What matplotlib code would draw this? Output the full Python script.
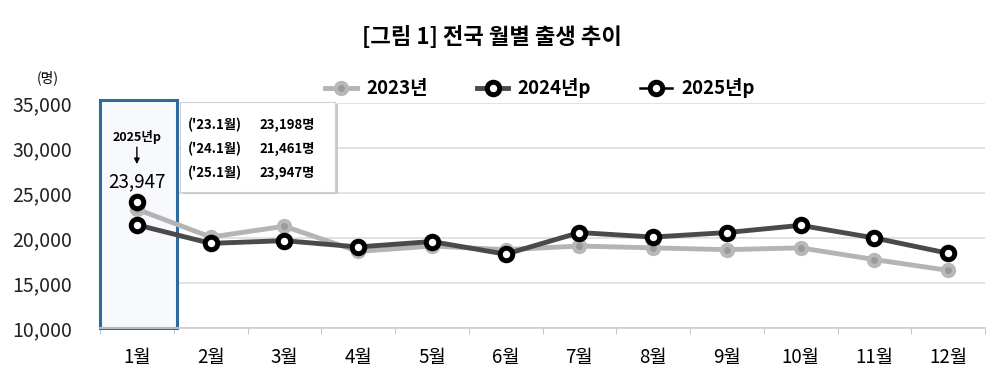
import numpy as np
import matplotlib.pyplot as plt
from matplotlib.patches import Rectangle

plt.rcParams['font.family'] = ['Noto Sans CJK KR', 'DejaVu Sans']

months = ['1월', '2월', '3월', '4월', '5월', '6월', '7월', '8월', '9월', '10월', '11월', '12월']
births_2023 = [23198, 20100, 21300, 18500, 19100, 18700, 19100, 18900, 18700, 18900, 17600, 16400]
births_2024 = [21461, 19400, 19700, 19000, 19600, 18200, 20600, 20100, 20600, 21400, 20000, 18300]
births_2025 = [23947]
callout_lines = [("('23.1월)", '23,198명'), ("('24.1월)", '21,461명'), ("('25.1월)", '23,947명')]

x = np.arange(len(months))

fig = plt.figure(figsize=(10, 3.8), dpi=100)
ax = fig.add_axes([0.1, 0.137, 0.885, 0.592])

# highlight box for January
ax.add_patch(Rectangle((-0.5, 10000), 1.045, 25300, facecolor='#F7F9FD', edgecolor='#2F6A9F',
                       lw=2.2, zorder=1, clip_on=False))

ax.plot(x, births_2023, color='#B4B4B4', lw=3.5, marker='o', ms=8, mfc='#9A9A9A',
        mec='#B8B8B8', mew=3, label='2023년', zorder=3)
ax.plot(x, births_2024, color='#4A4A4A', lw=3.5, marker='o', ms=9, mfc='white',
        mec='black', mew=3.6, label='2024년p', zorder=4)
ax.plot(x[:len(births_2025)], births_2025, color='black', lw=1.8, marker='o', ms=9, mfc='white',
        mec='black', mew=3.6, label='2025년p', zorder=5)

# annotation of 2025 value
ax.text(0, 31200, '2025년p', ha='center', va='center', fontsize=9, fontweight='bold', zorder=6)
ax.annotate('', xy=(0, 27900), xytext=(0, 30400),
            arrowprops=dict(arrowstyle='-|>', color='black', lw=1, mutation_scale=8), zorder=6)
ax.text(0, 26250, f'{births_2025[0]:,}', ha='center', va='center', fontsize=13.5, zorder=6)

# callout box with values
ax.add_patch(Rectangle((0.63, 24900), 2.1, 10000, facecolor='#C8C8C8', edgecolor='none',
                       zorder=5, clip_on=False))
ax.add_patch(Rectangle((0.585, 25100), 2.1, 10000, facecolor='white', edgecolor='#D0D0D0',
                       lw=0.8, zorder=6, clip_on=False))
for i, (lbl, val) in enumerate(callout_lines):
    yy = 32550 - i * 2650
    ax.text(0.69, yy, lbl, ha='left', va='center', fontsize=9.5, fontweight='bold', zorder=7)
    ax.text(1.66, yy, val, ha='left', va='center', fontsize=9.5, fontweight='bold', zorder=7)

ax.set_xlim(-0.5, 11.5)
ax.set_ylim(10000, 35000)
ax.set_yticks(np.arange(10000, 35001, 5000))
ax.set_yticklabels([f'{v:,}' for v in range(10000, 35001, 5000)], fontsize=14, color='#222222')
ax.set_xticks(x)
ax.set_xticklabels(months, fontsize=13.5)
ax.set_xticks(np.arange(-0.5, 12, 1), minor=True)
ax.tick_params(axis='x', which='major', length=0, pad=14)
ax.tick_params(axis='x', which='minor', length=4, color='#BBBBBB')
ax.tick_params(axis='y', length=0, pad=20)
ax.grid(axis='y', color='#DDDDDD', lw=1.2)
ax.set_axisbelow(True)
for s in ['left', 'right', 'top']:
    ax.spines[s].set_visible(False)
ax.spines['bottom'].set_color('#CCCCCC')
ax.spines['bottom'].set_linewidth(1.2)

fig.text(0.492, 0.9, '[그림 1] 전국 월별 출생 추이', ha='center', va='center', fontsize=16,
         fontweight='bold')
fig.text(0.048, 0.795, '(명)', ha='center', va='center', fontsize=10)
ax.legend(ncol=3, loc='center', bbox_to_anchor=(0.54, 0.768), bbox_transform=fig.transFigure,
          frameon=False, prop={'size': 13.5, 'weight': 'bold'}, handlelength=1.7,
          columnspacing=2.6, handletextpad=0.5)

fig.savefig('out.png', dpi=100)
